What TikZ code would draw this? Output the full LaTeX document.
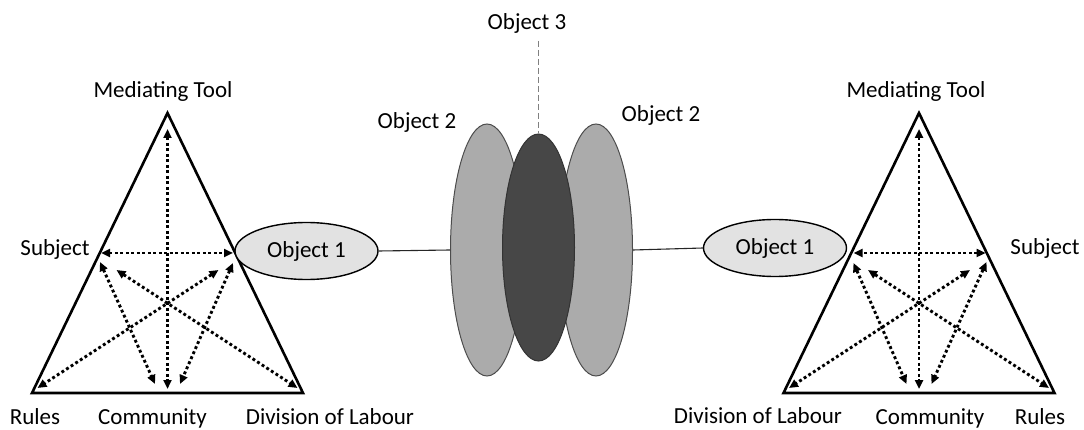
\documentclass[tikz,border=0pt]{standalone}
\usepackage{fontspec}
\setmainfont{Carlito}
\usetikzlibrary{arrows.meta,shapes.geometric}

\definecolor{objlight}{HTML}{E2E2E2}
\definecolor{objmid}{HTML}{ABABAB}
\definecolor{objdark}{HTML}{474747}

% One activity system: triangle with its six two-way relations.
% Local frame: axis of symmetry at x=0, the Rules corner on the -x side.
\newcommand\actsys[1]{%
  \coordinate (#1-a) at (0,113);
  \coordinate (#1-r) at (-135.5,393);
  \coordinate (#1-d) at (135.5,393);
  \coordinate (#1-so) at (-66.5,253);
  \coordinate (#1-os) at (65.5,253);
  \coordinate (#1-at) at (0,129);
  \coordinate (#1-ca) at (0,389);
  \coordinate (#1-sc) at (-67.5,262);
  \coordinate (#1-cs) at (-12.5,384);
  \coordinate (#1-oc) at (65.5,263);
  \coordinate (#1-co) at (12.5,384);
  \coordinate (#1-sd) at (-51,270);
  \coordinate (#1-ds) at (130,388);
  \coordinate (#1-or) at (51,270);
  \coordinate (#1-ro) at (-130,388);
  \draw[tri] (#1-a) -- (#1-r) -- (#1-d) -- cycle;
  \draw[rel] (#1-so) -- (#1-os);
  \draw[rel] (#1-at) -- (#1-ca);
  \draw[rel] (#1-sc) -- (#1-cs);
  \draw[rel] (#1-oc) -- (#1-co);
  \draw[rel] (#1-sd) -- (#1-ds);
  \draw[rel] (#1-or) -- (#1-ro);
}

\begin{document}
\begin{tikzpicture}[x=1pt,y=-1pt,
  lbl/.style={font=\fontsize{23}{27}\selectfont, inner sep=0pt, anchor=base},
  tri/.style={line width=2.6pt, line join=miter},
  rel/.style={line width=2.9pt, dash pattern=on 2.9pt off 2.6pt,
    {Triangle[length=9pt,width=8pt]}-{Triangle[length=9pt,width=8pt]}},
  objone/.style={ellipse, draw, line width=1.4pt, fill=objlight,
    minimum width=143pt, minimum height=57pt, inner sep=0pt,
    font=\fontsize{23}{27}\selectfont},
  objtwo/.style={ellipse, draw=black!70, line width=1pt, fill=objmid,
    minimum width=73pt, minimum height=252pt, inner sep=0pt},
  objthree/.style={ellipse, draw=black!80, line width=1pt, fill=objdark,
    minimum width=72pt, minimum height=227pt, inner sep=0pt},
  tie/.style={line width=1.1pt, draw=black!85},
]
\useasboundingbox (0,0) rectangle (1084,430);

% left activity system
\begin{scope}[shift={(167.5,0)}]
  \actsys{L}
\end{scope}
% right activity system (mirrored)
\begin{scope}[shift={(919,0)}, xscale=-1]
  \actsys{R}
\end{scope}

% objects
\node[objone] (lo1) at (306.5,251) {Object 1};
\node[objone] (ro1) at (775,248) {Object 1};
\node[objtwo] (o2l) at (487,250) {};
\node[objtwo] (o2r) at (596,250) {};
\node[objthree] (o3) at (538.5,247.5) {};

\draw[tie] (lo1.east) -- (o2l.west);
\draw[tie] (o2r.east) -- (ro1.west);

\node[lbl] (t3) at (527,30) {Object 3};
\coordinate (t3foot) at (538.5,41);
\draw[gray, line width=1pt, dash pattern=on 6pt off 3pt] (t3foot) -- (o3.north);

\node[lbl] (t2l) at (417,129) {Object 2};
\node[lbl] (t2r) at (661,122) {Object 2};

% labels, left system
\node[lbl] (Lmt) at (163,98) {Mediating Tool};
\node[lbl] (Lsub) at (55,256) {Subject};
\node[lbl] (Lru) at (35,424) {Rules};
\node[lbl] (Lco) at (152.5,424) {Community};
\node[lbl] (Ldl) at (330,424) {Division of Labour};

% labels, right system
\node[lbl] (Rmt) at (916,98) {Mediating Tool};
\node[lbl] (Rsub) at (1045,255) {Subject};
\node[lbl] (Rdl) at (758,423) {Division of Labour};
\node[lbl] (Rco) at (930,424.5) {Community};
\node[lbl] (Rru) at (1040,424) {Rules};
\end{tikzpicture}
\end{document}
